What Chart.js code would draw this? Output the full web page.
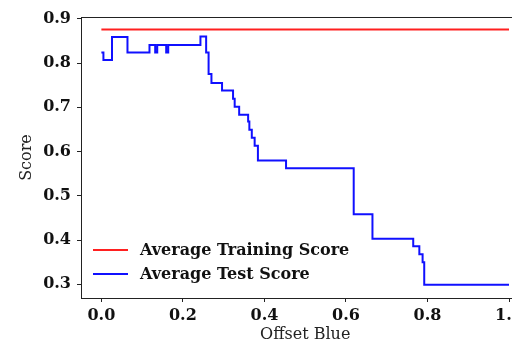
<!DOCTYPE html>
<html>
<head>
<meta charset="utf-8">
<script src="https://cdn.jsdelivr.net/npm/chart.js@4/dist/chart.umd.min.js"></script>
<style>
  html, body { margin: 0; padding: 0; background: #fff; overflow: hidden; width: 512px; height: 344px; }
  canvas { display: block; }
</style>
</head>
<body>
<canvas id="c" width="540" height="344"></canvas>
<script>
// Data
const trainOffsets = [0.0, 1.0];
const trainScores = [0.876, 0.876];

const testOffsets = [0.0, 0.005, 0.026, 0.064, 0.118, 0.132, 0.137, 0.159, 0.164, 0.243, 0.257, 0.263, 0.270, 0.296, 0.323, 0.327, 0.338, 0.360, 0.363, 0.369, 0.376, 0.384, 0.453, 0.619, 0.665, 0.765, 0.780, 0.788, 0.792, 1.0];
const testScores  = [0.824, 0.807, 0.859, 0.824, 0.841, 0.824, 0.841, 0.824, 0.841, 0.860, 0.824, 0.775, 0.755, 0.738, 0.719, 0.701, 0.683, 0.668, 0.649, 0.631, 0.613, 0.580, 0.562, 0.458, 0.403, 0.386, 0.368, 0.350, 0.299, 0.299];

const xTicks = [0.0, 0.2, 0.4, 0.6, 0.8, 1.0];
const yTicks = [0.3, 0.4, 0.5, 0.6, 0.7, 0.8, 0.9];

const seriesLabels = ['Average Training Score', 'Average Test Score'];
const xTitle = 'Offset Blue';
const yTitle = 'Score';

const SERIF = "'DejaVu Serif', serif";
const AX = '#222';

const toPts = (xs, ys) => xs.map((x, i) => ({ x: x, y: ys[i] }));

const frame = {
  id: 'frame',
  afterDraw(chart) {
    const { ctx, chartArea: a } = chart;
    ctx.save();
    ctx.strokeStyle = AX;
    ctx.lineWidth = 1;
    ctx.beginPath();
    ctx.moveTo(a.left, a.top + 0.5);
    ctx.lineTo(a.right, a.top + 0.5);
    ctx.stroke();
    // legend
    const items = chart.data.datasets;
    ctx.font = "bold 16px " + SERIF;
    ctx.textBaseline = 'middle';
    ctx.textAlign = 'left';
    const x0 = 93, x1 = 128, tx = 140;
    const ys = [250, 274];
    items.forEach((ds, i) => {
      ctx.strokeStyle = ds.borderColor;
      ctx.lineWidth = 2;
      ctx.beginPath();
      ctx.moveTo(x0, ys[i]);
      ctx.lineTo(x1, ys[i]);
      ctx.stroke();
      ctx.fillStyle = '#111';
      ctx.fillText(ds.label, tx, ys[i] + 1);
    });
    ctx.restore();
  }
};

new Chart(document.getElementById('c'), {
  type: 'line',
  data: {
    datasets: [
      { label: seriesLabels[0], data: toPts(trainOffsets, trainScores), borderColor: '#ff2020', borderWidth: 2, pointRadius: 0, fill: false },
      { label: seriesLabels[1], data: toPts(testOffsets, testScores), borderColor: '#1010ff', borderWidth: 2, pointRadius: 0, fill: false, stepped: 'before' }
    ]
  },
  options: {
    responsive: false,
    animation: false,
    layout: { padding: { top: 17, right: 10.6, left: 0, bottom: 0 } },
    plugins: { legend: { display: false }, tooltip: { enabled: false } },
    scales: {
      x: {
        type: 'linear', min: -0.05, max: 1.05,
        afterBuildTicks: s => { s.ticks = xTicks.map(v => ({ value: v })); },
        afterFit: s => { s.height = 46; },
        grid: { drawOnChartArea: false, drawTicks: true, tickLength: 4, color: AX },
        border: { display: true, color: AX, width: 1 },
        ticks: { color: '#111', padding: 4, font: { family: SERIF, size: 16, weight: 'bold' }, callback: v => v.toFixed(1), maxRotation: 0 },
        title: { display: true, text: xTitle, color: '#222', font: { family: SERIF, size: 16 }, padding: { top: 0, bottom: 0 } }
      },
      y: {
        type: 'linear', min: 0.269, max: 0.904,
        afterBuildTicks: s => { s.ticks = yTicks.map(v => ({ value: v })); },
        afterFit: s => { s.width = 81; },
        grid: { drawOnChartArea: false, drawTicks: true, tickLength: 4, color: AX },
        border: { display: true, color: AX, width: 1 },
        ticks: { color: '#111', padding: 6, font: { family: SERIF, size: 16, weight: 'bold' }, callback: v => v.toFixed(1) },
        title: { display: true, text: yTitle, color: '#222', font: { family: SERIF, size: 16 }, padding: { top: 17, bottom: 0 } }
      }
    }
  },
  plugins: [frame]
});
</script>
</body>
</html>
